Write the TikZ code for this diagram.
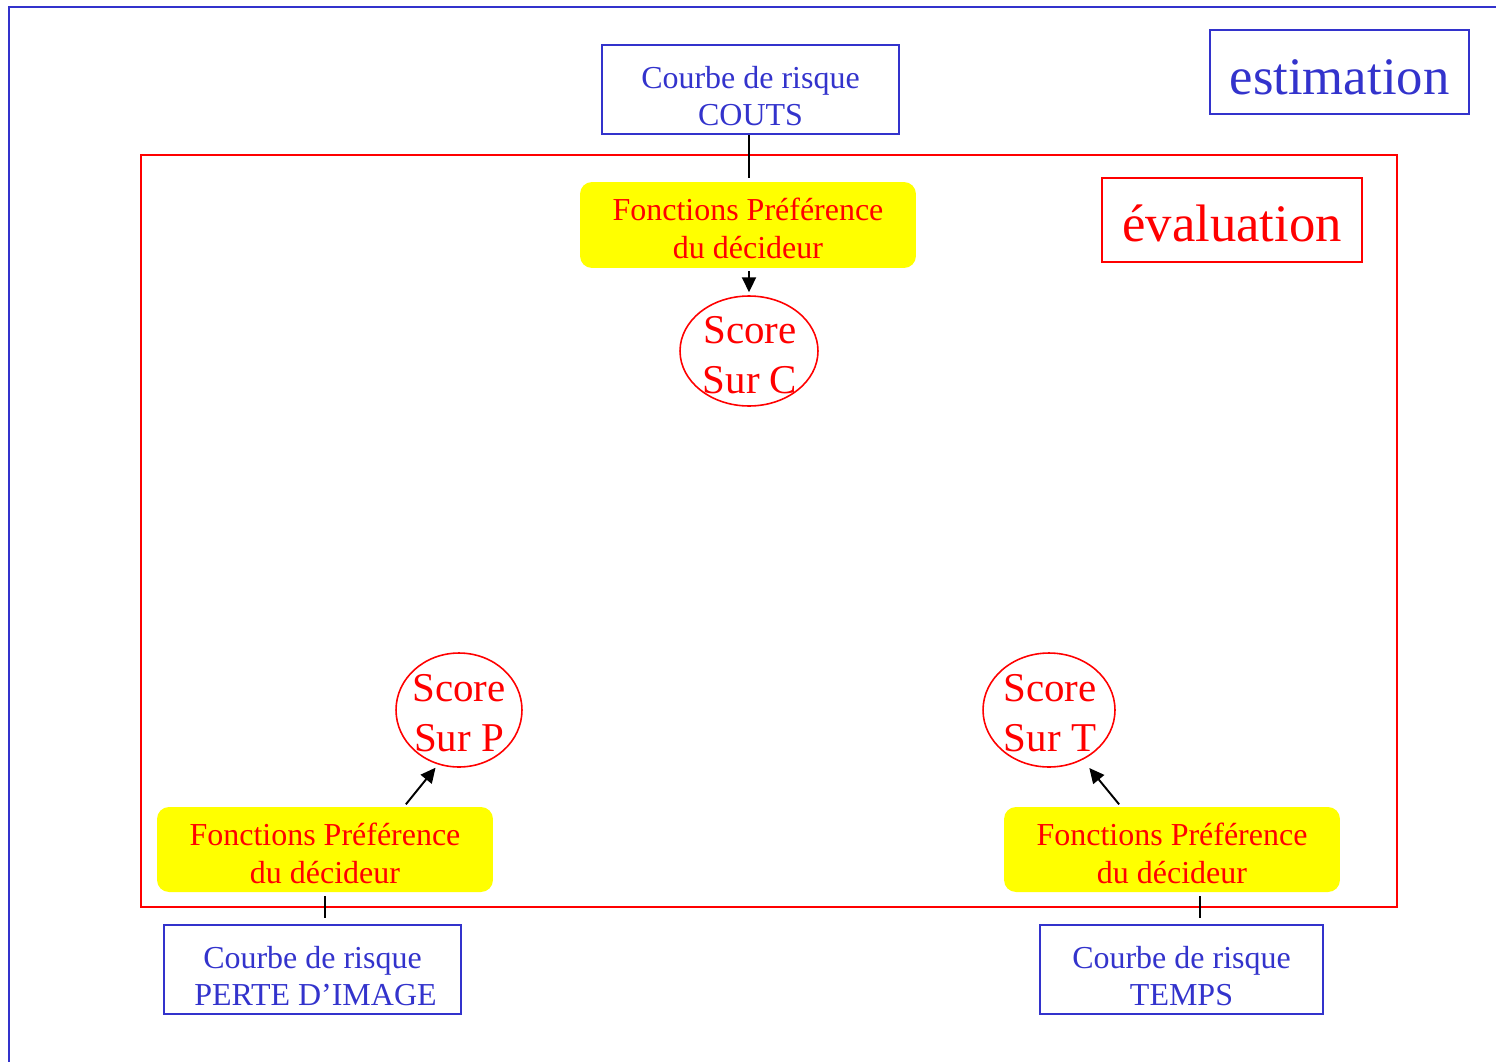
\documentclass[tikz,border=0pt]{standalone}
\usepackage{fontspec}
\setmainfont{Liberation Serif}
\usetikzlibrary{shapes.geometric,arrows.meta}
\definecolor{estblue}{HTML}{3333CC}
\definecolor{evalred}{HTML}{FF0000}
\definecolor{prefyellow}{HTML}{FFFF00}
% lower a centred block of lines inside its frame without changing the frame
\newcommand\droptext[2]{\raisebox{-#1}[\height][\depth]{\begin{tabular}{@{}c@{}}#2\end{tabular}}}
\tikzset{
  bluebox/.style={draw=estblue, line width=1.4pt, rectangle, inner sep=0pt,
    text=estblue, align=center, font=\fontsize{18.2}{21.2}\selectfont},
  titlebox/.style={draw=#1, line width=1pt, rectangle, inner sep=0pt,
    text=#1, font=\fontsize{30}{34}\selectfont, minimum height=1.68cm},
  yellowbox/.style={fill=prefyellow, rounded corners=0.24cm, rectangle, inner sep=0pt,
    text=evalred, align=center, font=\fontsize{18.2}{21.6}\selectfont,
    minimum width=6.72cm},
  scoreellipse/.style={draw=evalred, line width=0.9pt, ellipse, inner sep=0pt},
  scoretext/.style={text=evalred, align=center, inner sep=0pt,
    font=\fontsize{23.3}{28.5}\selectfont},
  link/.style={draw=black, line width=1.1pt},
  arrowlink/.style={link, -{Triangle[length=8.5pt,width=8pt]}}
}
\begin{document}
\begin{tikzpicture}[x=0.02cm, y=-0.02cm]
  \useasboundingbox (0,0) rectangle (1496,1061);

  % outer frame of the estimation stage
  \draw[estblue, line width=1.1pt] (9,1075) -- (9,7) -- (1510,7);

  % frame of the evaluation stage
  \draw[evalred, line width=1pt] (141,155) rectangle (1397,907);

  % stage titles
  \node[titlebox=estblue, minimum width=5.18cm] (estim) at (1339.5,72)
    {\droptext{0.21cm}{estimation}};
  \node[titlebox=evalred, minimum width=5.2cm] (evalt) at (1232,220)
    {\droptext{0.19cm}{évaluation}};

  % risk curves
  \node[bluebox, minimum width=5.94cm, minimum height=1.78cm] (couts) at (750.5,89.5)
    {\droptext{0.2cm}{Courbe de risque\\COUTS}};
  \node[bluebox, minimum width=5.94cm, minimum height=1.78cm] (perte) at (312.5,969.5)
    {\droptext{0.2cm}{Courbe de risque\\\hspace{0.12cm}PERTE D’IMAGE}};
  \node[bluebox, minimum width=5.66cm, minimum height=1.78cm] (temps) at (1181.5,969.5)
    {\droptext{0.2cm}{Courbe de risque\\TEMPS}};

  % decision maker preference functions
  \node[yellowbox, minimum height=1.72cm] (prefC) at (748,225)
    {\droptext{0.14cm}{Fonctions Préférence\\du décideur}};
  \node[yellowbox, minimum height=1.7cm] (prefP) at (325,849.5)
    {\droptext{0.14cm}{Fonctions Préférence\\du décideur}};
  \node[yellowbox, minimum height=1.7cm] (prefT) at (1172,849.5)
    {\droptext{0.14cm}{Fonctions Préférence\\du décideur}};

  % scores
  \node[scoreellipse, minimum width=2.76cm, minimum height=2.2cm] (scC) at (749,351) {};
  \node[scoretext] (scCt) at (750,355) {Score\\Sur C};
  \node[scoreellipse, minimum width=2.52cm, minimum height=2.28cm] (scP) at (459,710) {};
  \node[scoretext] (scPt) at (459,713) {Score\\Sur P};
  \node[scoreellipse, minimum width=2.64cm, minimum height=2.28cm] (scT) at (1049,710) {};
  \node[scoretext] (scTt) at (1050,713) {Score\\Sur T};

  % connectors
  \draw[link, shorten >=0.08cm] (scC.north |- couts.south) -- (scC.north |- prefC.north);
  \draw[arrowlink, shorten <=0.06cm, shorten >=0.06cm] (scC.north |- prefC.south) -- (scC.north);

  \draw[link, shorten <=0.08cm, shorten >=0.12cm] (prefP.south) -- (prefP.south |- perte.north);
  \draw[link, shorten <=0.08cm, shorten >=0.12cm]
    ([xshift=0.56cm]prefT.south) -- ([xshift=0.56cm]prefT.south |- temps.north);

  \draw[arrowlink, shorten <=0.06cm, shorten >=0.08cm]
    ([xshift=1.58cm]prefP.north) -- (scP.249);
  \draw[arrowlink, shorten <=0.06cm, shorten >=0.21cm]
    ([xshift=-1.02cm]prefT.north) -- (scT.304);
\end{tikzpicture}
\end{document}
